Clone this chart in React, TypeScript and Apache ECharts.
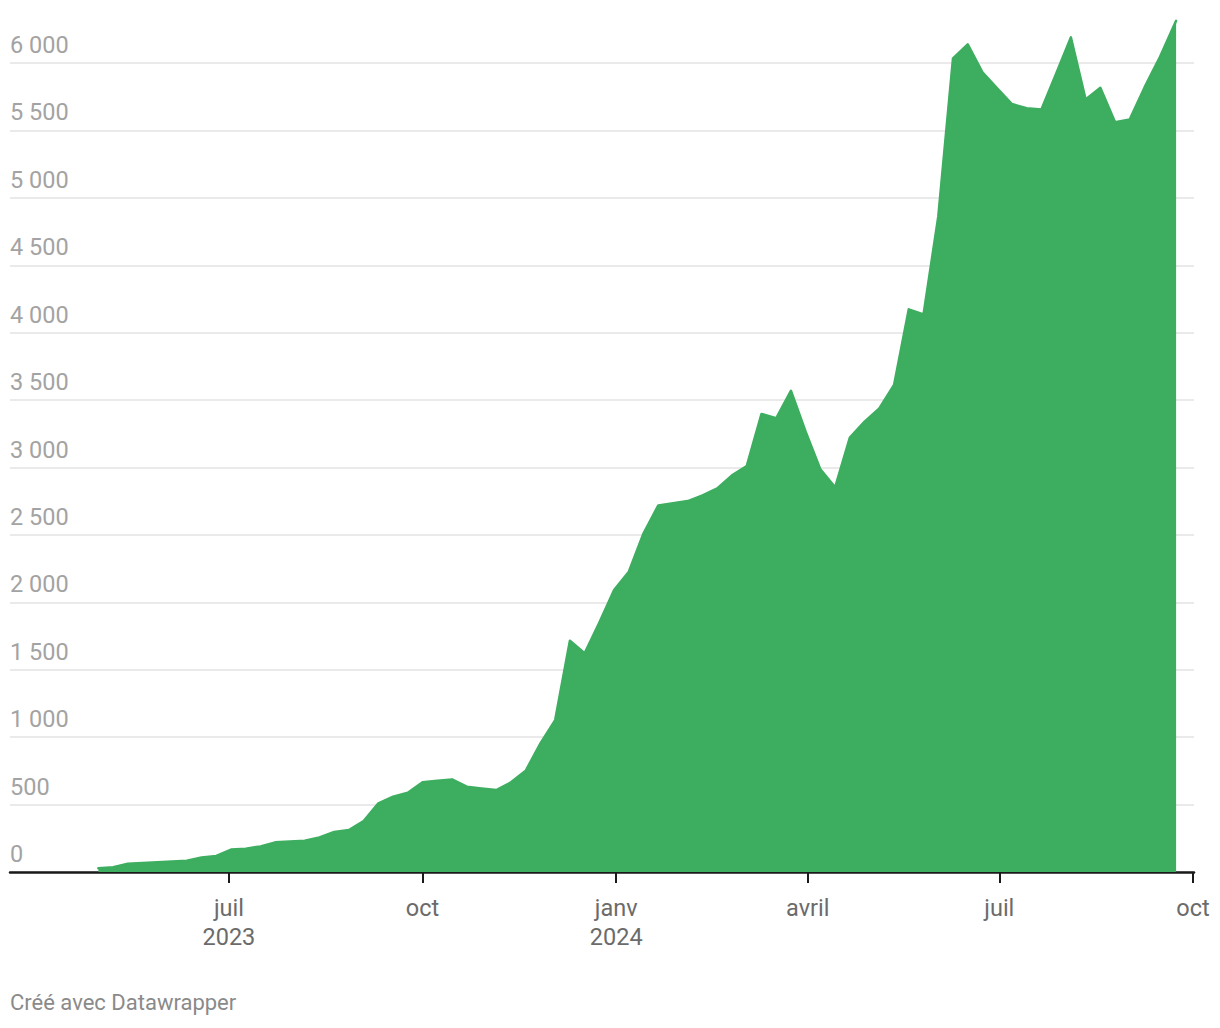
import React, { useEffect, useRef } from "react";
import * as echarts from "echarts";

const weekDates: string[] = [
  "2023-04-30", "2023-05-07", "2023-05-14", "2023-05-21", "2023-05-28", "2023-06-04", "2023-06-11", "2023-06-18",
  "2023-06-25", "2023-07-02", "2023-07-09", "2023-07-16", "2023-07-23", "2023-07-30", "2023-08-06", "2023-08-13",
  "2023-08-20", "2023-08-27", "2023-09-03", "2023-09-10", "2023-09-17", "2023-09-24", "2023-10-01", "2023-10-08",
  "2023-10-15", "2023-10-22", "2023-10-29", "2023-11-05", "2023-11-12", "2023-11-19", "2023-11-26", "2023-12-03",
  "2023-12-10", "2023-12-17", "2023-12-24", "2023-12-31", "2024-01-07", "2024-01-14", "2024-01-21", "2024-01-28",
  "2024-02-04", "2024-02-11", "2024-02-18", "2024-02-25", "2024-03-03", "2024-03-10", "2024-03-17", "2024-03-24",
  "2024-03-31", "2024-04-07", "2024-04-14", "2024-04-21", "2024-04-28", "2024-05-05", "2024-05-12", "2024-05-19",
  "2024-05-26", "2024-06-02", "2024-06-09", "2024-06-16", "2024-06-23", "2024-06-30", "2024-07-07", "2024-07-14",
  "2024-07-21", "2024-07-28", "2024-08-04", "2024-08-11", "2024-08-18", "2024-08-25", "2024-09-01", "2024-09-08",
  "2024-09-15", "2024-09-23",
];

const weekValues: number[] = [
  27, 35, 62, 67, 73, 78, 84, 107,
  119, 166, 173, 190, 220, 226, 232, 257,
  297, 311, 378, 509, 558, 588, 665, 676,
  687, 633, 620, 608, 665, 751, 954, 1127,
  1715, 1622, 1850, 2091, 2227, 2512, 2719, 2735,
  2751, 2793, 2845, 2942, 3011, 3397, 3365, 3569,
  3265, 2986, 2853, 3221, 3340, 3439, 3612, 4173,
  4136, 4860, 6034, 6138, 5931, 5812, 5696, 5664,
  5656, 5920, 6190, 5730, 5816, 5560, 5582, 5819,
  6034, 6313,
];

const tickDates: string[] = ["2023-07-01", "2023-10-01", "2024-01-01", "2024-04-01", "2024-07-01", "2024-10-01"];
const tickLabels: string[] = ["juil\n2023", "oct", "janv\n2024", "avril", "juil", "oct"];

const axisMinDate = "2023-03-19";
const axisMaxDate = "2024-10-01";

const yMin = 0;
const yMax = 6000;
const yStep = 500;

const creditText = "Créé avec Datawrapper";

const GREEN = "#3dad5f";

function toTs(s: string): number {
  const [y, m, d] = s.split("-").map(Number);
  return Date.UTC(y, m - 1, d);
}

function fmtThousands(v: number): string {
  return String(v).replace(/\B(?=(\d{3})+(?!\d))/g, " ");
}

export default function App() {
  const ref = useRef<HTMLDivElement>(null);

  useEffect(() => {
    if (!ref.current) return;
    const chart = echarts.init(ref.current, null, { renderer: "svg" });
    const tickTimes = tickDates.map(toTs);
    const data = weekDates.map((d, i) => [toTs(d), weekValues[i]]);
    const font = "Roboto, 'Noto Sans', sans-serif";

    chart.setOption({
      animation: false,
      backgroundColor: "#ffffff",
      textStyle: { fontFamily: font },
      grid: { left: 10, right: 26, top: 63, bottom: 156, containLabel: false },
      xAxis: {
        type: "value",
        min: toTs(axisMinDate),
        max: toTs(axisMaxDate) + 12 * 3600 * 1000,
        axisLine: { show: true, lineStyle: { color: "#1a1a1a", width: 2.5 } },
        axisTick: {
          show: true,
          customValues: tickTimes,
          length: 11,
          lineStyle: { color: "#1a1a1a", width: 2 },
        },
        axisLabel: {
          customValues: tickTimes,
          color: "#6b6b6b",
          fontSize: 23.5,
          fontFamily: font,
          lineHeight: 29,
          margin: 21,
          hideOverlap: false,
          showMinLabel: true,
          showMaxLabel: true,
          formatter: (val: number) => {
            const idx = tickTimes.findIndex((t) => Math.abs(t - val) < 86400000);
            return idx >= 0 ? tickLabels[idx] : "";
          },
        },
        splitLine: { show: false },
      },
      yAxis: {
        type: "value",
        min: yMin,
        max: yMax,
        interval: yStep,
        axisLine: { show: false },
        axisTick: { show: false },
        axisLabel: {
          inside: true,
          margin: 0,
          color: "#a3a3a3",
          fontSize: 23.5,
          fontFamily: font,
          verticalAlign: "bottom",
          align: "left",
          padding: [0, 0, 6, 0],
          formatter: (v: number) => fmtThousands(v),
        },
        splitLine: { show: true, lineStyle: { color: "#e3e3e3", width: 1.5 } },
      },
      series: [
        {
          type: "line",
          data,
          clip: false,
          showSymbol: false,
          symbol: "none",
          lineStyle: { color: GREEN, width: 2.5, cap: "round", join: "round" },
          areaStyle: { color: GREEN, opacity: 1 },
          z: 1,
        },
      ],
      graphic: [
        {
          type: "text",
          left: 10,
          top: 991,
          style: {
            text: creditText,
            fill: "#8a8a8a",
            fontSize: 22,
            fontFamily: font,
          },
        },
      ],
    });

    return () => chart.dispose();
  }, []);

  return (
    <div
      ref={ref}
      style={{ position: "fixed", left: 0, top: 0, width: 1220, height: 1028, background: "#fff" }}
    />
  );
}
